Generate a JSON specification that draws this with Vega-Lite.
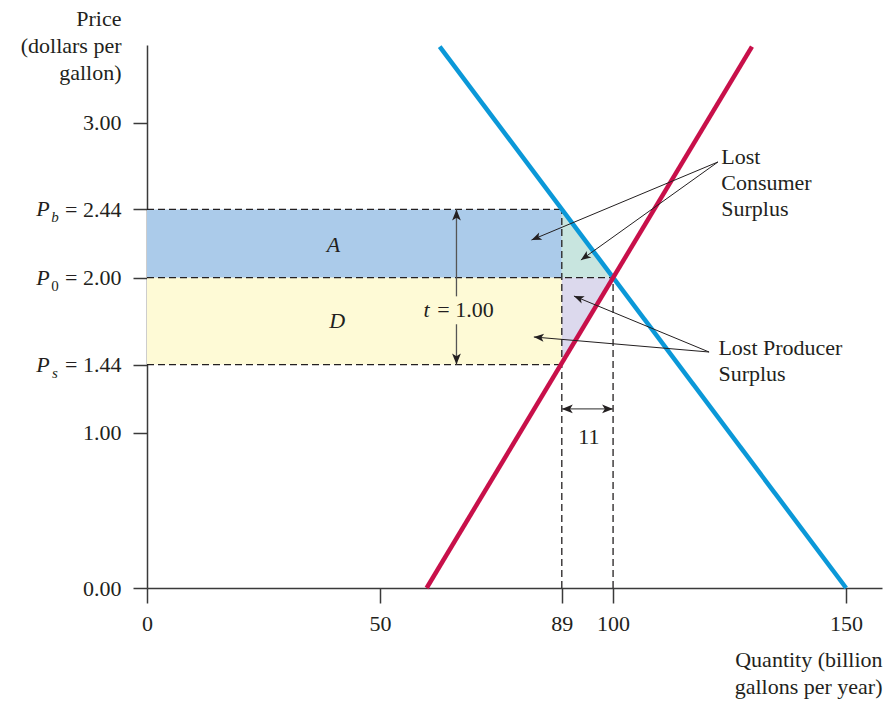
{
  "$schema": "https://vega.github.io/schema/vega-lite/v6.json",
  "width": 735,
  "height": 543,
  "autosize": {"type": "none"},
  "padding": {"left": 147, "top": 45, "right": 12, "bottom": 114},
  "background": "white",
  "config": {
    "view": {"stroke": null},
    "font": "Liberation Serif",
    "axis": {
      "grid": false,
      "labelFlush": false,
      "labelOverlap": false,
      "domainColor": "#3a3a3a",
      "domainWidth": 1.5,
      "tickColor": "#3a3a3a",
      "tickWidth": 1.5,
      "labelColor": "#231f20",
      "labelFont": "Liberation Serif",
      "labelFontSize": 22,
      "titleFont": "Liberation Serif",
      "titleFontSize": 22,
      "titleFontWeight": "normal",
      "titleColor": "#231f20"
    },
    "text": {"font": "Liberation Serif", "fontSize": 22, "color": "#231f20"}
  },
  "encoding": {
    "x": {
      "field": "q",
      "type": "quantitative",
      "scale": {"domain": [0, 157.7], "nice": false, "zero": false},
      "axis": {
        "values": [0, 50, 89, 100, 150],
        "format": "d",
        "tickSize": 15,
        "labelPadding": 10,
        "title": ["Quantity (billion", "gallons per year)"],
        "titleAngle": 0,
        "titleAlign": "right",
        "titleAnchor": null,
        "titleBaseline": "alphabetic",
        "titleX": 735,
        "titleY": 78,
        "titleLineHeight": 27
      }
    },
    "y": {
      "field": "p",
      "type": "quantitative",
      "scale": {"domain": [0, 3.5], "nice": false, "zero": false},
      "axis": {
        "values": [0, 1, 1.44, 2, 2.44, 3],
        "labelExpr": "datum.value == 2.44 ? '= 2.44' : datum.value == 2 ? '= 2.00' : datum.value == 1.44 ? '= 1.44' : format(datum.value, '.2f')",
        "tickSize": 14,
        "labelPadding": 12,
        "title": ["Price", "(dollars per", "gallon)"],
        "titleAngle": 0,
        "titleAlign": "right",
        "titleAnchor": null,
        "titleBaseline": "alphabetic",
        "titleX": -26,
        "titleY": -20,
        "titleLineHeight": 27
      }
    }
  },
  "layer": [
    {
      "data": {"values": [
        {"id": "A", "q": 0, "q2": 89, "p": 2.0, "p2": 2.44},
        {"id": "D", "q": 0, "q2": 89, "p": 1.44, "p2": 2.0}
      ]},
      "mark": {"type": "rect"},
      "encoding": {
        "x2": {"field": "q2"},
        "y2": {"field": "p2"},
        "fill": {"field": "id", "type": "nominal", "scale": {"domain": ["A", "D"], "range": ["#abcbea", "#fefad6"]}, "legend": null}
      }
    },
    {
      "data": {"values": [
        {"q": 89, "p": 2.44, "p2": 2.0},
        {"q": 100, "p": 2.0, "p2": 2.0}
      ]},
      "mark": {"type": "area", "color": "#c8e5df", "opacity": 1},
      "encoding": {"y2": {"field": "p2"}}
    },
    {
      "data": {"values": [
        {"q": 89, "p": 2.0, "p2": 1.45},
        {"q": 100, "p": 2.0, "p2": 2.0}
      ]},
      "mark": {"type": "area", "color": "#dcd9ed", "opacity": 1},
      "encoding": {"y2": {"field": "p2"}}
    },
    {
      "data": {"values": [
        {"q": 0, "q2": 89, "p": 2.44, "p2": 2.44},
        {"q": 0, "q2": 100, "p": 2.0, "p2": 2.0},
        {"q": 0, "q2": 89, "p": 1.44, "p2": 1.44},
        {"q": 89, "q2": 89, "p": 0, "p2": 2.44},
        {"q": 100, "q2": 100, "p": 0, "p2": 2.0}
      ]},
      "mark": {"type": "rule", "color": "#231f20", "strokeWidth": 1.3, "strokeDash": [7, 4]},
      "encoding": {"x2": {"field": "q2"}, "y2": {"field": "p2"}}
    },
    {
      "data": {"values": [
        {"s": "Demand", "q": 62.8, "p": 3.49},
        {"s": "Demand", "q": 150, "p": 0},
        {"s": "Supply", "q": 60, "p": 0},
        {"s": "Supply", "q": 129.8, "p": 3.49}
      ]},
      "mark": {"type": "line", "strokeWidth": 4.5},
      "encoding": {
        "color": {"field": "s", "type": "nominal", "scale": {"domain": ["Demand", "Supply"], "range": ["#0b98d8", "#c8104a"]}, "legend": null}
      }
    },
    {
      "data": {"values": [
        {"q": 66.4, "q2": 66.4, "p": 2.44, "p2": 1.88},
        {"q": 66.4, "q2": 66.4, "p": 1.70, "p2": 1.44},
        {"q": 89, "q2": 100, "p": 1.154, "p2": 1.154}
      ]},
      "mark": {"type": "rule", "color": "#555555", "strokeWidth": 1.3},
      "encoding": {"x2": {"field": "q2"}, "y2": {"field": "p2"}}
    },
    {
      "data": {"values": [
        {"q": 122.5, "p": 2.746, "q2": 82.5, "p2": 2.243},
        {"q": 122.5, "p": 2.746, "q2": 93.1, "p2": 2.114},
        {"q": 120.6, "p": 1.521, "q2": 91.6, "p2": 1.882},
        {"q": 120.6, "p": 1.521, "q2": 83.0, "p2": 1.618}
      ]},
      "mark": {"type": "rule", "color": "#231f20", "strokeWidth": 1},
      "encoding": {"x2": {"field": "q2"}, "y2": {"field": "p2"}}
    },
    {
      "data": {"values": [{"head": "t-top", "q": 66.4, "p": 2.44}]},
      "mark": {"type": "point", "shape": "M0,0L-0.4,1L0,0.75L0.4,1Z", "filled": true, "color": "#231f20", "opacity": 1, "size": 484, "angle": 0}
    },
    {
      "data": {"values": [{"head": "t-bottom", "q": 66.4, "p": 1.44}]},
      "mark": {"type": "point", "shape": "M0,0L-0.4,1L0,0.75L0.4,1Z", "filled": true, "color": "#231f20", "opacity": 1, "size": 484, "angle": 180}
    },
    {
      "data": {"values": [{"head": "gap-left", "q": 89, "p": 1.154}]},
      "mark": {"type": "point", "shape": "M0,0L-0.4,1L0,0.75L0.4,1Z", "filled": true, "color": "#231f20", "opacity": 1, "size": 484, "angle": 270}
    },
    {
      "data": {"values": [{"head": "gap-right", "q": 100, "p": 1.154}]},
      "mark": {"type": "point", "shape": "M0,0L-0.4,1L0,0.75L0.4,1Z", "filled": true, "color": "#231f20", "opacity": 1, "size": 484, "angle": 90}
    },
    {
      "data": {"values": [{"head": "cs-A", "q": 82.5, "p": 2.243}]},
      "mark": {"type": "point", "shape": "M0,0L-0.4,1L0,0.75L0.4,1Z", "filled": true, "color": "#231f20", "opacity": 1, "size": 400, "angle": 247.2}
    },
    {
      "data": {"values": [{"head": "cs-tri", "q": 93.1, "p": 2.114}]},
      "mark": {"type": "point", "shape": "M0,0L-0.4,1L0,0.75L0.4,1Z", "filled": true, "color": "#231f20", "opacity": 1, "size": 400, "angle": 234.4}
    },
    {
      "data": {"values": [{"head": "ps-tri", "q": 91.6, "p": 1.882}]},
      "mark": {"type": "point", "shape": "M0,0L-0.4,1L0,0.75L0.4,1Z", "filled": true, "color": "#231f20", "opacity": 1, "size": 400, "angle": 292.5}
    },
    {
      "data": {"values": [{"head": "ps-D", "q": 83.0, "p": 1.618}]},
      "mark": {"type": "point", "shape": "M0,0L-0.4,1L0,0.75L0.4,1Z", "filled": true, "color": "#231f20", "opacity": 1, "size": 400, "angle": 274.9}
    },
    {
      "data": {"values": [
        {"label": "A", "q": 40, "p": 2.21},
        {"label": "D", "q": 40.8, "p": 1.72}
      ]},
      "mark": {"type": "text", "fontStyle": "italic", "align": "center", "baseline": "middle"},
      "encoding": {"text": {"field": "label", "type": "nominal"}}
    },
    {
      "data": {"values": [{"label": "t", "q": 66.4, "p": 1.79}]},
      "mark": {"type": "text", "fontStyle": "italic", "align": "center", "baseline": "middle", "dx": -30},
      "encoding": {"text": {"field": "label", "type": "nominal"}}
    },
    {
      "data": {"values": [{"label": "= 1.00", "q": 66.4, "p": 1.79}]},
      "mark": {"type": "text", "align": "center", "baseline": "middle", "dx": 9},
      "encoding": {"text": {"field": "label", "type": "nominal"}}
    },
    {
      "data": {"values": [{"label": "11", "q": 94.8, "p": 0.973}]},
      "mark": {"type": "text", "align": "center", "baseline": "middle"},
      "encoding": {"text": {"field": "label", "type": "nominal"}}
    },
    {
      "data": {"values": [
        {"label": ["Lost", "Consumer", "Surplus"], "q": 123.2, "p": 2.778},
        {"label": ["Lost Producer", "Surplus"], "q": 122.6, "p": 1.547}
      ]},
      "mark": {"type": "text", "align": "left", "baseline": "middle", "lineHeight": 26},
      "encoding": {"text": {"field": "label", "type": "nominal"}}
    },
    {
      "data": {"values": [
        {"label": "P", "q": 0, "p": 2.44},
        {"label": "P", "q": 0, "p": 2.0},
        {"label": "P", "q": 0, "p": 1.44}
      ]},
      "mark": {"type": "text", "fontStyle": "italic", "align": "center", "baseline": "middle", "dx": -104},
      "encoding": {"text": {"field": "label", "type": "nominal"}}
    },
    {
      "data": {"values": [
        {"label": "b", "q": 0, "p": 2.44},
        {"label": "s", "q": 0, "p": 1.44}
      ]},
      "mark": {"type": "text", "fontStyle": "italic", "fontSize": 15, "align": "center", "baseline": "middle", "dx": -92, "dy": 8},
      "encoding": {"text": {"field": "label", "type": "nominal"}}
    },
    {
      "data": {"values": [{"label": "0", "q": 0, "p": 2.0}]},
      "mark": {"type": "text", "fontSize": 15, "align": "center", "baseline": "middle", "dx": -92, "dy": 8},
      "encoding": {"text": {"field": "label", "type": "nominal"}}
    }
  ]
}
